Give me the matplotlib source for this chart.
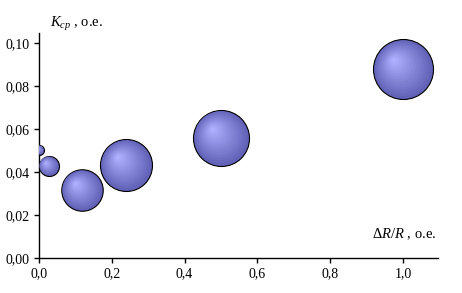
import numpy as np
import matplotlib
matplotlib.use("Agg")
import matplotlib.pyplot as plt
from matplotlib.transforms import offset_copy
from matplotlib.ticker import FuncFormatter

plt.rcParams['font.family'] = ['Liberation Serif', 'DejaVu Serif']
plt.rcParams['mathtext.fontset'] = 'custom'
plt.rcParams['mathtext.rm'] = 'Liberation Serif'
plt.rcParams['mathtext.it'] = 'Liberation Serif:italic'

# data
x_vals = [0.0, 0.027, 0.118, 0.239, 0.50, 1.0]
y_vals = [0.0502, 0.0428, 0.0316, 0.0433, 0.0560, 0.0879]
bubble_sizes = [25, 100, 430, 676, 784, 900]
x_ticks = [0.0, 0.2, 0.4, 0.6, 0.8, 1.0]
y_ticks = [0.00, 0.02, 0.04, 0.06, 0.08, 0.10]

fig = plt.figure(figsize=(4.62, 2.93), dpi=100)
ax = fig.add_axes([39/462, 1-258/293, (438-39)/462, (258-33)/293])
ax.set_xlim(0, 1.096)
ax.set_ylim(0, 0.1047)

outer = np.array([0x62, 0x62, 0xb8]) / 255
inner = np.array([0xb0, 0xb0, 0xff]) / 255
N = 14
for xi, yi, si in zip(x_vals, y_vals, bubble_sizes):
    s_pts = 2.0736 * si
    d = np.sqrt(s_pts)
    r = d / 2
    ax.scatter([xi], [yi], s=s_pts, color=outer, edgecolor='black', linewidth=0.8, zorder=2)
    for k in range(1, N):
        f = 1 - k / N
        t = k / (N - 1)
        col = outer * (1 - t) + inner * t
        tr = offset_copy(ax.transData, fig=fig, x=-(1 - f) * 0.32 * r, y=(1 - f) * 0.32 * r, units='points')
        ax.scatter([xi], [yi], s=s_pts * f * f * 0.98, color=col, edgecolor='none', transform=tr, zorder=3)

ax.set_xticks(x_ticks)
ax.set_yticks(y_ticks)
ax.xaxis.set_major_formatter(FuncFormatter(lambda v, p: f"{v:.1f}".replace('.', ',')))
ax.yaxis.set_major_formatter(FuncFormatter(lambda v, p: f"{v:.2f}".replace('.', ',')))
for sp in ['top', 'right']:
    ax.spines[sp].set_visible(False)
for sp in ['left', 'bottom']:
    ax.spines[sp].set_linewidth(1.0)
ax.tick_params(direction='out', length=3.5, width=1.0, labelsize=10, pad=3)

fig.text(50/462, 1-27/293, r'$K_{ср}$ , о.е.', fontsize=10.5, ha='left', va='baseline')
fig.text(437/462, 1-238/293, r'$\Delta R/R$ , о.е.', fontsize=10.5, ha='right', va='baseline')

fig.savefig('out.png', dpi=100)
